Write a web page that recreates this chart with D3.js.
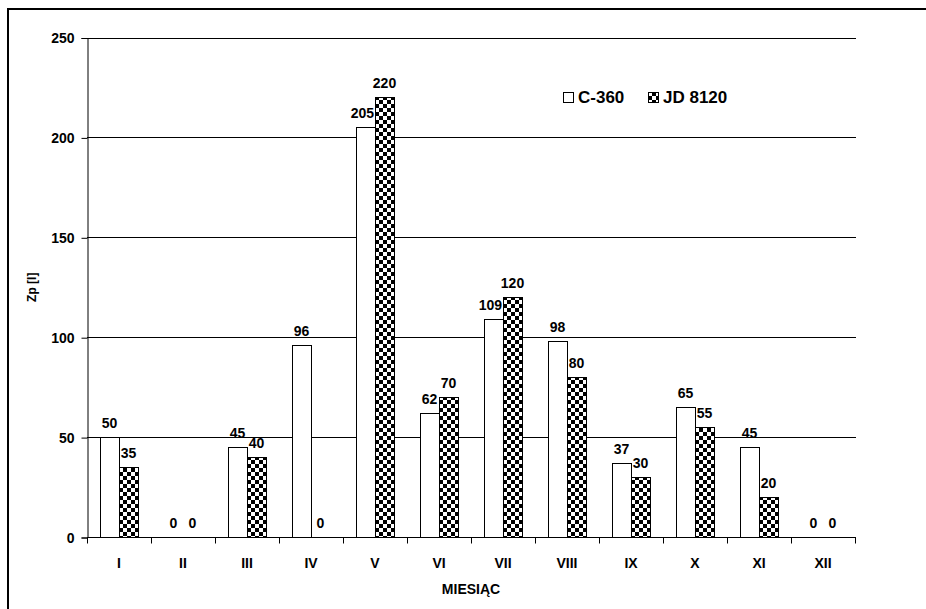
<!DOCTYPE html>
<html><head><meta charset="utf-8">
<script src="https://cdn.jsdelivr.net/npm/d3@7"></script>
<style>
body{margin:0;background:#fff;}
svg text{font-family:"Liberation Sans",Arial,sans-serif;font-weight:bold;fill:#000;}
</style></head>
<body>
<svg id="chart" width="926" height="609"></svg>
<script>
const categories = ["I","II","III","IV","V","VI","VII","VIII","IX","X","XI","XII"];
const seriesNames = ["C-360","JD 8120"];
const c360 = [50,0,45,96,205,62,109,98,37,65,45,0];
const jd8120 = [35,0,40,0,220,70,120,80,30,55,20,0];
const yTicks = [0,50,100,150,200,250];

const svg = d3.select("#chart");
const defs = svg.append("defs");
const pat = defs.append("pattern").attr("id","checker").attr("patternUnits","userSpaceOnUse")
  .attr("width",8).attr("height",8);
pat.append("rect").attr("width",8).attr("height",8).attr("fill","#fff");
pat.append("rect").attr("x",0).attr("y",0).attr("width",4).attr("height",4).attr("fill","#000");
pat.append("rect").attr("x",4).attr("y",4).attr("width",4).attr("height",4).attr("fill","#000");

// outer border
svg.append("rect").attr("x",8).attr("y",9).attr("width",1000).attr("height",1000)
  .attr("fill","none").attr("stroke","#000").attr("stroke-width",2);

const L=87, R=855, T=37.5, B=537;
const x = d3.scaleBand().domain(categories).range([L,R]).padding(0);
const y = d3.scaleLinear().domain([0,250]).range([B,T]);
const barW = 19;
const x1 = d3.scaleBand().domain(seriesNames).range([-barW, barW]);

// gridlines
svg.append("g").selectAll("line").data(yTicks.filter(d=>d>0)).join("line")
  .attr("x1",L).attr("x2",R+1).attr("y1",d=>Math.round(y(d))+0.5).attr("y2",d=>Math.round(y(d))+0.5)
  .attr("stroke","#000").attr("stroke-width",1);

// y axis
const yAxis = d3.axisLeft(y).tickValues(yTicks).tickSize(6).tickPadding(8).tickFormat(d3.format("d"));
const gy = svg.append("g").attr("transform",`translate(${L+0.5},0.5)`).call(yAxis);
gy.selectAll("text").attr("font-size",14).attr("dy","0.35em").attr("x",-13);
gy.select(".domain").attr("stroke","#000");
gy.selectAll(".tick line").attr("stroke","#000");

// x axis
const xAxisG = svg.append("g").attr("transform",`translate(0,${B+0.5})`);
xAxisG.append("line").attr("x1",L).attr("x2",R+1).attr("stroke","#000");
xAxisG.selectAll("line.t").data(d3.range(categories.length+1)).join("line").attr("class","t")
  .attr("x1",i=>Math.round(L+i*x.bandwidth())+0.5).attr("x2",i=>Math.round(L+i*x.bandwidth())+0.5)
  .attr("y1",0).attr("y2",6).attr("stroke","#000");
xAxisG.selectAll("text").data(categories).join("text")
  .attr("x",d=>x(d)+x.bandwidth()/2).attr("y",30).attr("text-anchor","middle")
  .attr("font-size",14).text(d=>d);

// bars
const data = categories.map((c,i)=>({cat:c, vals:[{s:seriesNames[0],v:c360[i]},{s:seriesNames[1],v:jd8120[i]}]}));
const groups = svg.append("g").selectAll("g").data(data).join("g")
  .attr("transform",d=>`translate(${x(d.cat)+x.bandwidth()/2},0)`);
groups.selectAll("rect").data(d=>d.vals.filter(e=>e.v>0)).join("rect")
  .attr("x",e=>x1(e.s)+0.5).attr("width",x1.bandwidth())
  .attr("y",e=>Math.round(y(e.v))+0.5).attr("height",e=>B-Math.round(y(e.v)))
  .attr("fill",e=>e.s===seriesNames[0]?"#fff":"url(#checker)")
  .attr("stroke","#000").attr("stroke-width",1);

// value labels (with simple collision shift)
groups.each(function(d){
  const g=d3.select(this);
  d.vals.forEach((e,k)=>{
    const cx = x1(e.s)+x1.bandwidth()/2;
    const baseY = y(e.v)-9;
    const txt = String(e.v);
    const w = txt.length*7.8;
    let px = cx;
    if(k===0){
      const other = d.vals[1].v;
      if(y(other) < baseY && cx + w/2 > 0){ px = -w/2 - 1; }
    }
    g.append("text").attr("x",px).attr("y",baseY).attr("text-anchor","middle")
      .attr("font-size",14).text(txt);
  });
});

// axis titles
svg.append("text").attr("x",L+(R-L)/2).attr("y",594).attr("text-anchor","middle")
  .attr("font-size",14).text("MIESIĄC");
svg.append("text").attr("transform",`translate(36,${(T+B)/2}) rotate(-90)`)
  .attr("text-anchor","middle").attr("font-size",12).text("Zp [l]");

// legend
const leg = svg.append("g");
const legItems=[{s:seriesNames[0],x:563},{s:seriesNames[1],x:648}];
legItems.forEach((it,i)=>{
  leg.append("rect").attr("x",it.x+0.5).attr("y",92.5).attr("width",10).attr("height",10)
    .attr("fill",i===0?"#fff":"url(#checker)").attr("stroke","#000");
  leg.append("text").attr("x",it.x+15).attr("y",103).attr("font-size",17).text(it.s);
});
</script>
</body></html>
